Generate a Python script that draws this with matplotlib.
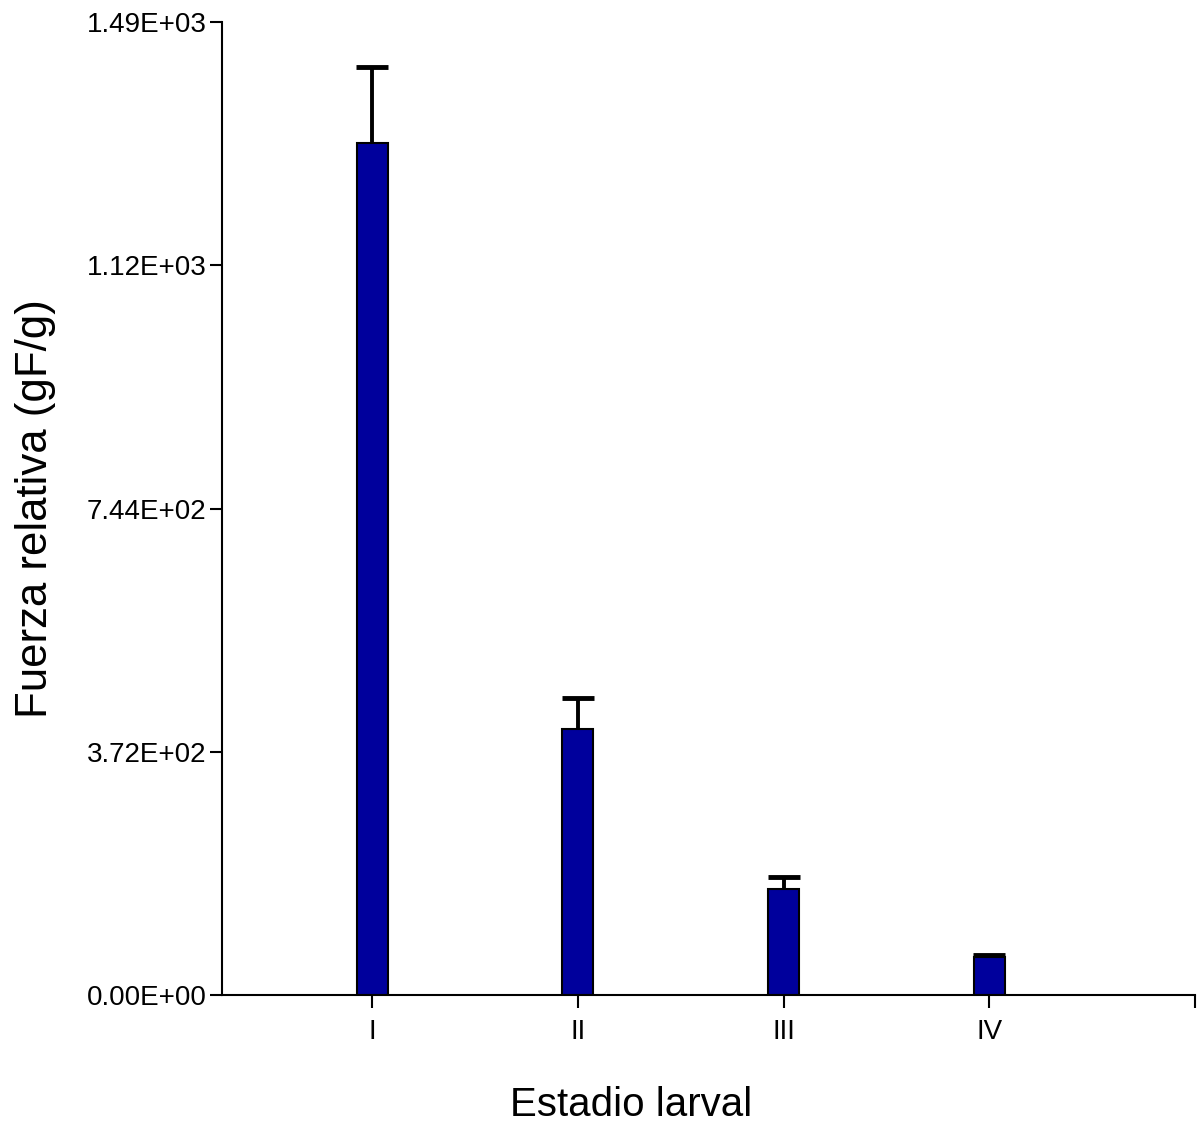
import matplotlib.pyplot as plt

plt.rcParams['font.family'] = ['Liberation Sans', 'DejaVu Sans']

# Data
stages = ['I', 'II', 'III', 'IV']
force = [1303, 407, 162, 58]
force_err = [116, 47, 18, 3]
y_ticks = [0, 372, 744, 1116, 1488]

fig = plt.figure(figsize=(11.98, 11.26), dpi=100)
ax = fig.add_axes([0.1853, 0.1163, 0.8122, 0.8642])

x = list(range(1, len(stages) + 1))
ax.bar(x, force, width=0.15, color='#00009C', edgecolor='black', linewidth=1.5, zorder=2)

# upper-only error bars
eb = ax.errorbar(x, force, yerr=[[0] * len(force_err), force_err], fmt='none',
                 ecolor='black', elinewidth=2.8, capsize=11.5, capthick=3.5, zorder=3)
eb[1][0].set_visible(False)

ax.set_xlim(0.27, 5.0)
ax.set_ylim(0, 1488)
ax.set_xticks(x + [5.0])
ax.set_xticklabels(stages + [''])
ax.set_yticks(y_ticks)
ax.set_yticklabels(['%.2E' % v for v in y_ticks])

for side in ['top', 'right']:
    ax.spines[side].set_visible(False)
for side in ['left', 'bottom']:
    ax.spines[side].set_linewidth(1.5)

ax.tick_params(axis='both', direction='out', length=9, width=1.5, labelsize=20, pad=2)
ax.tick_params(axis='x', pad=8)

ax.set_xlabel('Estadio larval', fontsize=29, va='center')
ax.xaxis.set_label_coords(0.42, -0.113)
ax.set_ylabel('Fuerza relativa (gF/g)', fontsize=31.5, va='center')
ax.yaxis.set_label_coords(-0.192, 0.5)

fig.savefig('out.png', dpi=100)
